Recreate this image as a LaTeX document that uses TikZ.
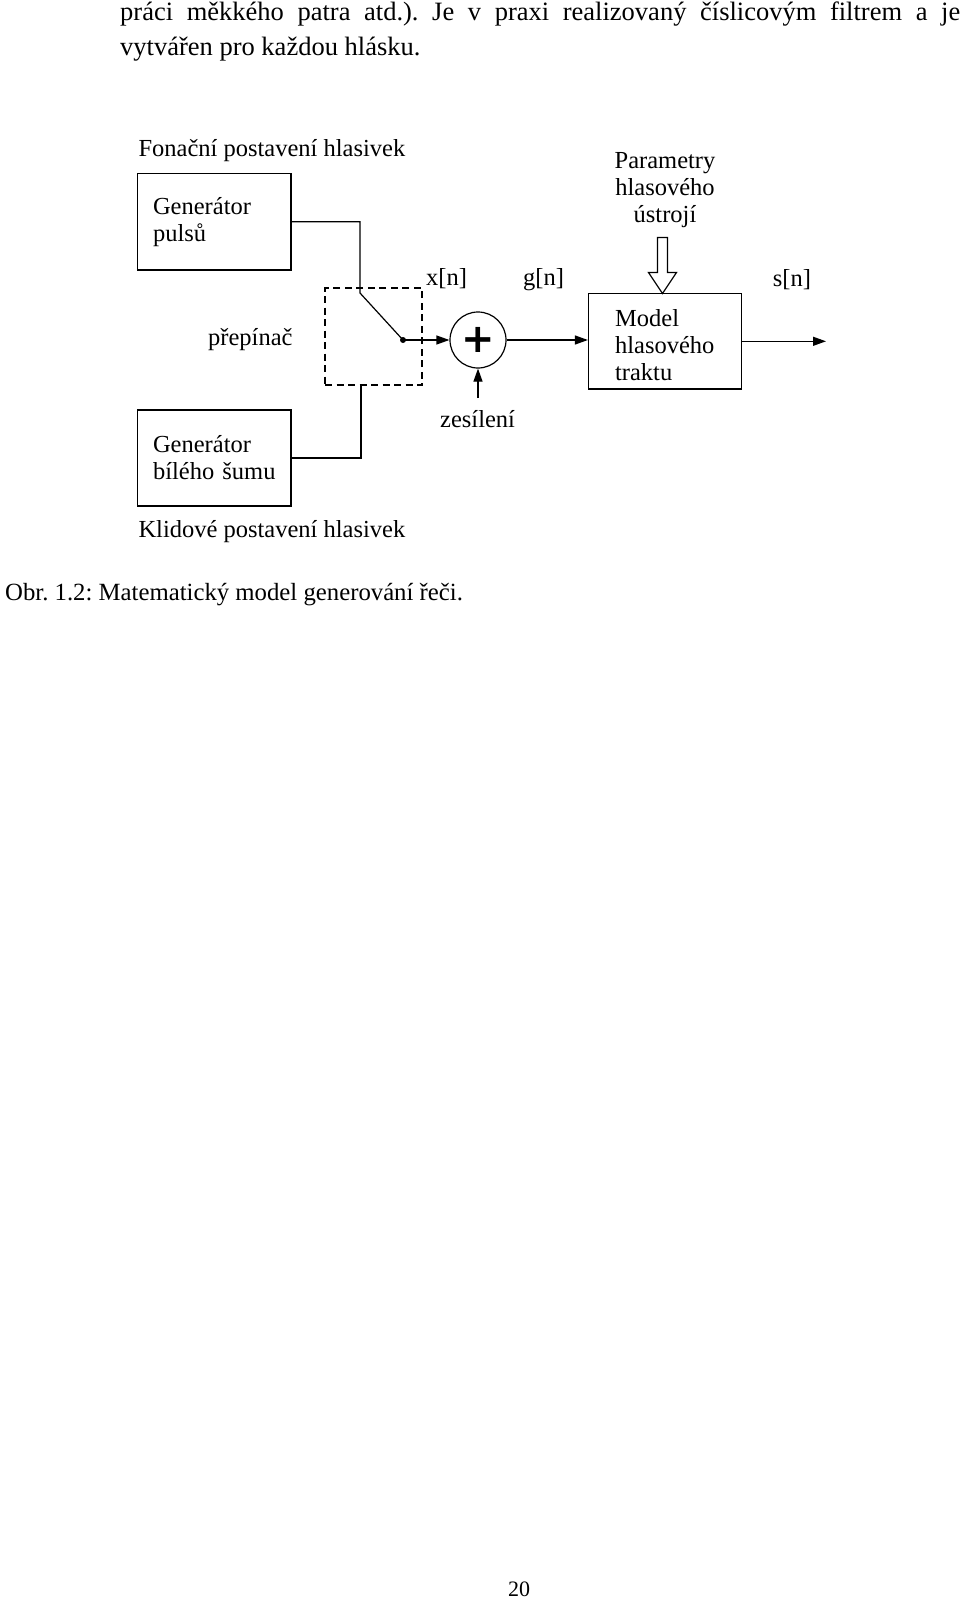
\documentclass[tikz,border=0pt]{standalone}
\usepackage{fontspec}
\setmainfont{Liberation Serif}
\newfontfamily\plusfont{DejaVu Sans}
\usetikzlibrary{arrows.meta}
\newcommand{\bodyfnt}{\fontsize{26.5}{36}\selectfont}
\newcommand{\diafnt}{\fontsize{24.5}{27}\selectfont}
\begin{document}
\frenchspacing
\begin{tikzpicture}[x=1pt,y=-1pt,
  wire/.style={line width=1.2pt},
  tip/.style={-{Triangle[length=13pt,width=9pt]}},
  blk/.style={draw, line width=1.2pt, align=left, font=\diafnt, inner ysep=0pt},
  lbl/.style={anchor=base west, inner sep=0pt, font=\diafnt},
  txt/.style={anchor=base west, inner sep=0pt, font=\bodyfnt}]
\useasboundingbox[fill=white] (0,0) rectangle (960,1600);

% page text
\node[txt] (l1) at (120,20.5) {\makebox[840pt][s]{práci měkkého patra atd.). Je v praxi realizovaný číslicovým filtrem a je}};
\node[txt] (l2) at (120,56) {vytvářen pro každou hlásku.};
\node[anchor=base west, inner sep=0pt, font=\fontsize{24.75}{27}\selectfont] (cap) at (5,600) {Obr. 1.2: Matematický model generování řeči.};
\node[anchor=base, inner sep=0pt, font=\fontsize{22}{24}\selectfont] (pg) at (519,1596) {20};

% blocks
\node[blk, text width=122.5pt, inner xsep=15.5pt, minimum height=96.5pt] (gp) at (214.3,221.8) {Generátor\\pulsů};
\node[blk, text width=122.5pt, inner xsep=15.5pt, minimum height=96pt] (gn) at (214.3,458) {Generátor\\bílého šumu};
\node[blk, text width=100pt, inner xsep=26.6pt, minimum height=95.5pt] (model) at (665.1,341.3) {\rule{0pt}{25pt}Model\\hlasového\\traktu};
\node[draw, line width=1.2pt, dash pattern=on 7pt off 4.5pt, minimum width=97pt, minimum height=97pt, inner sep=0pt] (sw) at (373.5,336.5) {};
\node[circle, draw, line width=1.2pt, minimum size=56pt, inner sep=0pt, font=\plusfont\bfseries\fontsize{40}{40}\selectfont] (sum) at (478,340) {+};
\node[circle, fill, inner sep=0pt, minimum size=6pt] (dot) at (403,340) {};

% labels
\node[lbl] (fon) at (138.3,157) {Fonační postavení hlasivek};
\node[lbl] (kl) at (138.3,537) {Klidové postavení hlasivek};
\node[lbl] (prep) at (208,345) {přepínač};
\node[lbl] (xn) at (426,285.5) {x[n]};
\node[lbl] (gnl) at (523,285.5) {g[n]};
\node[lbl] (sn) at (772.7,286.5) {s[n]};
\node[lbl] (zes) at (440,427.5) {zesílení};
\node[anchor=base, inner sep=0pt, align=center, font=\diafnt] (par) at (665,222) {Parametry\\hlasového\\ústrojí};

% coordinates
\coordinate (swtop) at (360,293);
\coordinate (swbot) at (361,385);
\coordinate (gain) at (478,398);
\coordinate (out) at (826,341.3);
\coordinate (ptip) at (662.5,293.5);

% connectors
\draw[wire] (gp.east) -| (swtop) -- (dot.center);
\draw[wire] (gn.east) -| (swbot);
\draw[wire, tip] (dot.center) -- (sum.west);
\draw[wire, tip] (sum.east) -- (sum.east -| model.west);
\draw[wire, tip] (model.east) -- (out);
\draw[wire, tip] (gain) -- (sum.south);

% hollow arrow from parameters to model
\draw[line width=1.2pt, fill=white, line join=miter]
  (657.5,237.5) -- (667.5,237.5) -- (667.5,272.5) -- (676.5,272.5)
  -- (ptip) -- (648.5,272.5) -- (657.5,272.5) -- cycle;
\end{tikzpicture}
\end{document}
